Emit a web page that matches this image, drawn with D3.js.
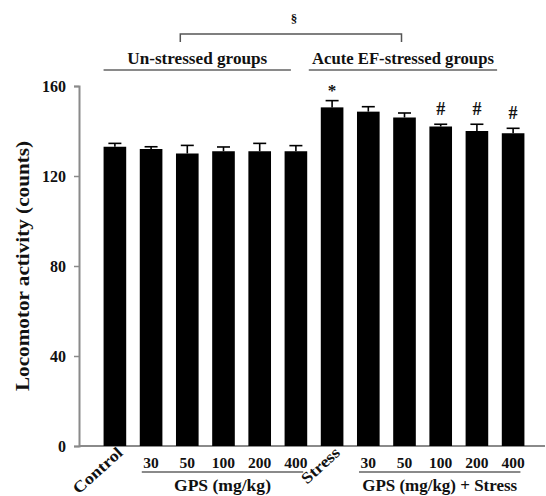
<!DOCTYPE html>
<html><head><meta charset="utf-8">
<script src="https://cdn.jsdelivr.net/npm/d3@7"></script>
<style>
body{margin:0;background:#fff;}
text{font-family:"Liberation Serif","Times New Roman",serif;font-weight:bold;fill:#111;}
</style></head>
<body><svg id="c" width="546" height="496"></svg>
<script>
const categories = ["Control","30","50","100","200","400","Stress","30","50","100","200","400"];
const means  = [133, 132, 130, 131, 131, 131, 150.5, 148.6, 146, 142, 140, 139];
const errors = [1.5, 1, 3.6, 1.9, 3.5, 2.5, 3, 2.2, 2, 1, 3, 2.2];
const marks  = ["","","","","","","*","","","#","#","#"];
const yTicks = [0, 40, 80, 120, 160];
const rotated = ["Control","Stress"];

const svg = d3.select("#c");
const x = d3.scaleBand().domain(d3.range(categories.length)).range([90, 538]).padding(0.375);
const y = d3.scaleLinear().domain([0, 160]).range([446, 86]);
const bw = x.bandwidth();
const cx = i => x(i) + bw/2;
const gray = "#8a8a8a";

// axes
const yAxis = d3.axisLeft(y).tickValues(yTicks).tickSize(5).tickPadding(8);
const gy = svg.append("g").attr("transform","translate(79,0)").call(yAxis);
gy.select(".domain").attr("stroke",gray).attr("stroke-width",2);
gy.selectAll(".tick line").attr("stroke",gray).attr("stroke-width",1.5);
gy.selectAll(".tick text").attr("font-size",16).attr("font-family","Liberation Serif").attr("font-weight","bold").attr("fill","#111");

svg.append("line").attr("x1",79).attr("x2",545).attr("y1",y(0)).attr("y2",y(0))
  .attr("stroke",gray).attr("stroke-width",2);

svg.append("text").attr("transform",`translate(22,${(y(0)+y(160))/2}) rotate(-90)`)
  .attr("text-anchor","middle").attr("dominant-baseline","central").attr("font-size",19)
  .attr("textLength",250).attr("lengthAdjust","spacingAndGlyphs")
  .text("Locomotor activity (counts)");

// bars
svg.append("g").selectAll("rect").data(means).join("rect")
  .attr("x",(d,i)=>x(i)).attr("width",bw).attr("y",d=>y(d)).attr("height",d=>y(0)-y(d)).attr("fill","#000");

// error bars
const eg = svg.append("g").attr("stroke","#000").attr("stroke-width",1.6);
means.forEach((m,i)=>{
  eg.append("line").attr("x1",cx(i)).attr("x2",cx(i)).attr("y1",y(m)).attr("y2",y(m+errors[i]));
  eg.append("line").attr("x1",cx(i)-6.5).attr("x2",cx(i)+6.5).attr("y1",y(m+errors[i])).attr("y2",y(m+errors[i]));
});

// significance marks
svg.append("g").selectAll("text").data(marks).join("text")
  .attr("x",(d,i)=>cx(i)).attr("y",(d,i)=>y(means[i]+errors[i]) - (d==="*"?5:9))
  .attr("text-anchor","middle").attr("font-size",d=>d==="*"?17:18).text(d=>d);

// x labels
categories.forEach((c,i)=>{
  if (rotated.includes(c)) {
    svg.append("text").attr("transform",`translate(${cx(i)+9},${454}) rotate(-42)`)
      .attr("text-anchor","end").attr("font-size",16)
      .attr("textLength", c==="Control"?61:46).attr("lengthAdjust","spacingAndGlyphs").text(c);
  } else {
    svg.append("text").attr("x",cx(i)).attr("y",468).attr("text-anchor","middle").attr("font-size",15.5).text(c);
  }
});

// bottom group underlines and labels
const bottomGroups = [
  {label:"GPS (mg/kg)", from:1, to:5, len:97},
  {label:"GPS (mg/kg) + Stress", from:7, to:11, len:155}
];
bottomGroups.forEach(g=>{
  const x1 = x(g.from)+2, x2 = x(g.to)+bw-4;
  svg.append("line").attr("x1",x1).attr("x2",x2).attr("y1",472).attr("y2",472).attr("stroke",gray).attr("stroke-width",2);
  svg.append("text").attr("x",(x1+x2)/2).attr("y",491).attr("text-anchor","middle").attr("font-size",16)
    .attr("textLength",g.len).attr("lengthAdjust","spacingAndGlyphs").text(g.label);
});

// top group underlines and labels
const topGroups = [
  {label:"Un-stressed groups", from:0, to:5, len:140},
  {label:"Acute EF-stressed groups", from:6, to:11, len:182}
];
topGroups.forEach((g,k)=>{
  const x1 = k===0 ? x(g.from) : x(g.from)-12;
  const x2 = k===0 ? x(g.to)+bw/2-5 : cx(g.to)-16;
  svg.append("line").attr("x1",x1).attr("x2",x2).attr("y1",70).attr("y2",70).attr("stroke",gray).attr("stroke-width",2);
  svg.append("text").attr("x",(x1+x2)/2).attr("y",64).attr("text-anchor","middle").attr("font-size",16.5)
    .attr("textLength",g.len).attr("lengthAdjust","spacingAndGlyphs").text(g.label);
});

// bracket
const bx1 = cx(2)-7, bx2 = cx(8)-3;
svg.append("path").attr("d",`M${bx1},42V34H${bx2}V42`).attr("fill","none").attr("stroke","#555").attr("stroke-width",1.5);
svg.append("text").attr("x",(bx1+bx2)/2+3).attr("y",23).attr("text-anchor","middle").attr("font-size",13).text("§");
</script></body></html>
